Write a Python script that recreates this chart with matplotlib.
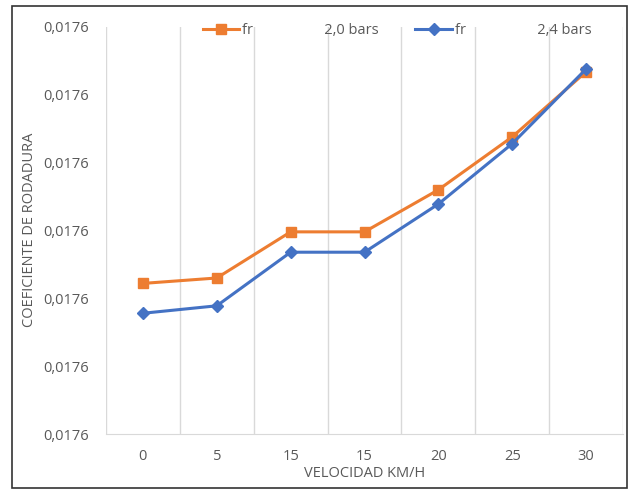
import matplotlib.pyplot as plt
from matplotlib.patches import Rectangle
import numpy as np

categories = ["0", "5", "15", "15", "20", "25", "30"]
fr_20 = [0.0175822, 0.0175830, 0.0175898, 0.0175898, 0.0175960, 0.0176038, 0.0176134]
fr_24 = [0.0175778, 0.0175789, 0.0175868, 0.0175868, 0.0175939, 0.0176028, 0.0176138]
yticks = [0.01756, 0.01757, 0.01758, 0.01759, 0.01760, 0.01761, 0.01762]

plt.rcParams['font.family'] = ['Open Sans', 'DejaVu Sans']
gray = '#595959'

W, H = 629, 491
fig = plt.figure(figsize=(W / 100, H / 100), dpi=100)
ax = fig.add_axes([106 / W, 1 - 434 / H, (623 - 106) / W, (434 - 27) / H])

x = np.arange(len(categories))
pad = ' ' * 19
ax.plot(x, fr_20, color='#ED7D31', lw=2.2, marker='s', ms=7,
        label='fr' + pad + '2,0 bars')
ax.plot(x, fr_24, color='#4472C4', lw=2.2, marker='D', ms=6,
        label='fr' + pad + '2,4 bars')

ax.set_xlim(-0.5, len(categories) - 0.5)
ax.set_ylim(yticks[0], yticks[-1])
ax.set_xticks(x)
ax.set_xticklabels(categories)
ax.set_xticks(np.arange(-0.5, len(categories)), minor=True)
ax.set_yticks(yticks)
ax.set_yticklabels([f"{v:.4f}".replace('.', ',') for v in yticks])
ax.grid(axis='x', which='minor', color='#d9d9d9', lw=1)
ax.tick_params(axis='both', which='both', length=0, colors=gray, labelsize=10.5)
ax.tick_params(axis='x', pad=11)
ax.tick_params(axis='y', pad=12)
for s in ['top', 'right', 'left']:
    ax.spines[s].set_visible(False)
ax.spines['bottom'].set_color('#d9d9d9')

ax.set_xlabel('VELOCIDAD KM/H', color=gray, fontsize=10.5, labelpad=1)
ax.set_ylabel('COEFICIENTE DE RODADURA', color=gray, fontsize=10.5)
ax.yaxis.set_label_coords((37 - 106) / (623 - 106), (434 - 230) / (434 - 27))

leg = ax.legend(loc='center left', bbox_to_anchor=(203 / W, 1 - 31 / H),
                bbox_transform=fig.transFigure, ncol=2, frameon=False,
                fontsize=10.5, handlelength=2.5, handletextpad=0.2,
                columnspacing=2.5, borderpad=0, borderaxespad=0,
                labelcolor=gray)

fig.patches.append(Rectangle((12 / W, 1 - 488 / H), (627 - 12) / W, (488 - 6) / H,
                             transform=fig.transFigure, fill=False,
                             edgecolor='#333333', lw=1.2))

fig.savefig('out.png', dpi=100)
